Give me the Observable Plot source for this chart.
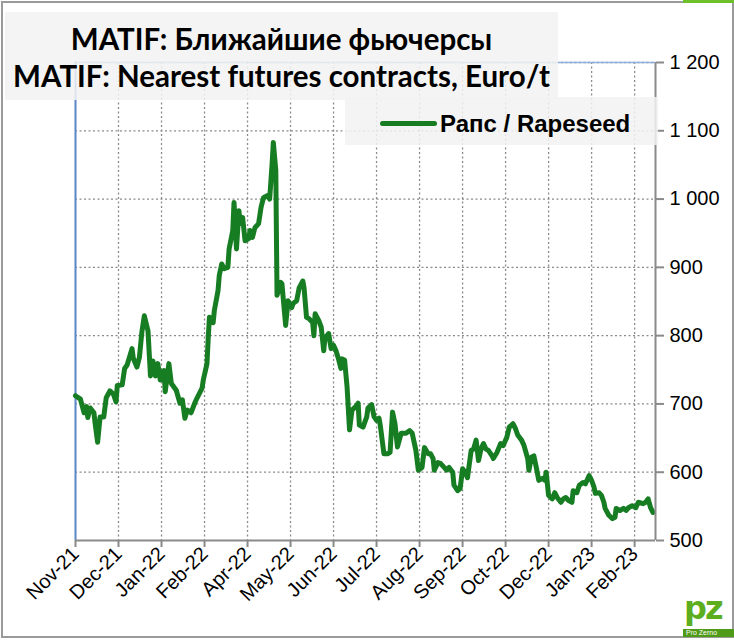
<!DOCTYPE html>
<html>
<head>
<meta charset="utf-8">
<script src="https://cdn.jsdelivr.net/npm/d3@7"></script>
<script src="https://cdn.jsdelivr.net/npm/@observablehq/plot@0.6"></script>
<style>
  html, body { margin: 0; padding: 0; background: #fff; }
  #wrap { position: relative; width: 734px; height: 641px; overflow: hidden; font-family: "Liberation Sans", Arial, sans-serif; }
  #frame { position: absolute; left: 1px; top: 1px; width: 729px; height: 633px; border: 2px solid #9a9a9a; }
  #chart { position: absolute; left: 0; top: 0; }
  #title { position: absolute; left: 5px; top: 12px; width: 553px; height: 88px; background: rgba(242,242,242,0.85);
           font-family: Lato, "Open Sans", sans-serif; font-weight: 700; font-size: 29.5px; line-height: 36px; color: #000; text-align: center; }
  #title div { position: absolute; left: 0; width: 100%; white-space: nowrap; }
  #legend { position: absolute; left: 345px; top: 97px; width: 313px; height: 48px; background: rgba(242,242,242,0.85); }
  #legend .sw { position: absolute; left: 35px; top: 24px; width: 57px; height: 5px; border-radius: 3px; background: #177d22; }
  #legend .lb { position: absolute; left: 95px; top: 13px; font-weight: 700; font-size: 24px; line-height: 28px; color: #000; white-space: nowrap; }
  #logo { position: absolute; left: 683px; top: 600px; width: 51px; height: 38px; }
  #logo .pz { position: absolute; left: 1px; top: -8px; font-family: "DejaVu Sans", sans-serif; font-weight: 900; font-size: 32px; line-height: 32px; color: #5cae1e; letter-spacing: -2px; }
  #logo .band { position: absolute; left: 0; top: 29px; width: 48px; height: 8px; background: #4f9a17; color: #fff; font-size: 7px; line-height: 8px; padding-left: 3px; }
  #topbar { position: absolute; left: 683px; top: 0; width: 51px; height: 3px; background: #6cc02a; }
</style>
</head>
<body>
<div id="wrap">
  <div id="frame"></div>
  <div id="chart"></div>
  <div id="title">
    <div style="top:9px">MATIF: Ближайшие фьючерсы</div>
    <div style="top:46px">MATIF: Nearest futures contracts, Euro/t</div>
  </div>
  <div id="legend"><div class="sw"></div><div class="lb">Рапс / Rapeseed</div></div>
  <div id="logo"><div class="pz">pz</div><div class="band">Pro Zerno</div></div>
  <div id="topbar"></div>
</div>
<script>
// Series: MATIF rapeseed nearest futures, Euro/t
const dates = [
  "2021-11-15","2021-11-19","2021-11-22","2021-11-24","2021-11-25","2021-11-27","2021-11-30","2021-12-01","2021-12-03","2021-12-05",
  "2021-12-08","2021-12-10","2021-12-13","2021-12-16","2021-12-18","2021-12-19","2021-12-23","2021-12-25","2021-12-27","2021-12-31",
  "2022-01-01","2022-01-04","2022-01-06","2022-01-08","2022-01-10","2022-01-13","2022-01-15","2022-01-17","2022-01-19","2022-01-21",
  "2022-01-23","2022-01-26","2022-01-27","2022-01-30","2022-02-01","2022-02-05","2022-02-08","2022-02-10","2022-02-12","2022-02-14",
  "2022-02-17","2022-02-20","2022-02-22","2022-02-26","2022-02-27","2022-03-02","2022-03-03","2022-03-04","2022-03-07","2022-03-08",
  "2022-03-11","2022-03-12","2022-03-14","2022-03-16","2022-03-19","2022-03-20","2022-03-23","2022-03-24","2022-03-26","2022-03-28",
  "2022-03-29","2022-03-31","2022-04-02","2022-04-05","2022-04-06","2022-04-08","2022-04-10","2022-04-13","2022-04-15","2022-04-17",
  "2022-04-20","2022-04-22","2022-04-24","2022-04-25","2022-04-27","2022-04-28","2022-05-01","2022-05-02","2022-05-05","2022-05-07",
  "2022-05-10","2022-05-11","2022-05-14","2022-05-16","2022-05-19","2022-05-20","2022-05-22","2022-05-24","2022-05-27","2022-05-28",
  "2022-05-29","2022-06-01","2022-06-03","2022-06-05","2022-06-06","2022-06-09","2022-06-11","2022-06-13","2022-06-15","2022-06-17",
  "2022-06-19","2022-06-20","2022-06-22","2022-06-24","2022-06-26","2022-06-28","2022-07-01","2022-07-03","2022-07-04","2022-07-07",
  "2022-07-10","2022-07-11","2022-07-14","2022-07-16","2022-07-18","2022-07-20","2022-07-21","2022-07-24","2022-07-27","2022-07-29",
  "2022-07-31","2022-08-02","2022-08-04","2022-08-07","2022-08-11","2022-08-14","2022-08-16","2022-08-19","2022-08-21","2022-08-24",
  "2022-08-26","2022-08-29","2022-08-31","2022-09-02","2022-09-03","2022-09-06","2022-09-08","2022-09-11","2022-09-13","2022-09-15",
  "2022-09-18","2022-09-19","2022-09-22","2022-09-24","2022-09-26","2022-09-28","2022-09-30","2022-10-03","2022-10-05","2022-10-07",
  "2022-10-09","2022-10-11","2022-10-13","2022-10-15","2022-10-17","2022-10-20","2022-10-21","2022-10-24","2022-10-27","2022-10-29",
  "2022-11-01","2022-11-03","2022-11-06","2022-11-08","2022-11-10","2022-11-13","2022-11-15","2022-11-18","2022-11-19","2022-11-21",
  "2022-11-23","2022-11-25","2022-11-27","2022-11-30","2022-12-02","2022-12-03","2022-12-05","2022-12-08","2022-12-10","2022-12-12",
  "2022-12-15","2022-12-17","2022-12-19","2022-12-21","2022-12-24","2022-12-25","2022-12-28","2022-12-30","2023-01-02","2023-01-04",
  "2023-01-07","2023-01-09","2023-01-11","2023-01-12","2023-01-15","2023-01-17","2023-01-19","2023-01-20","2023-01-23","2023-01-26",
  "2023-01-28","2023-01-29","2023-02-01","2023-02-04","2023-02-06","2023-02-08","2023-02-11","2023-02-14","2023-02-16","2023-02-20",
  "2023-02-22","2023-02-24","2023-02-26","2023-02-28"
];
const rapeseed = [
  712,707,687,696,680,694,687,671,644,681,
  681,709,719,714,703,727,728,752,757,781,
  767,754,768,805,829,807,741,763,741,759,
  735,749,718,759,730,720,701,706,679,691,
  687,701,709,723,735,759,796,827,819,837,
  866,888,905,898,900,927,954,995,927,983,
  964,973,939,942,954,944,958,964,988,1002,
  1005,1000,1052,1083,1042,859,878,876,815,851,
  841,847,851,870,880,870,827,825,819,800,
  832,822,812,778,796,803,781,786,778,766,
  752,766,764,725,662,691,696,701,669,666,
  681,694,699,681,676,679,669,627,627,629,
  688,671,637,657,657,661,657,632,603,607,
  636,627,627,620,603,614,613,607,603,607,
  600,581,573,576,605,600,592,632,634,647,
  617,634,642,634,632,624,620,629,642,639,
  651,666,671,664,654,647,639,620,603,622,
  624,607,588,591,588,600,566,561,570,563,
  556,561,563,559,556,573,570,581,585,583,
  595,588,578,569,570,566,556,547,537,532,
  534,547,544,547,544,548,551,548,556,554,
  556,561,548,541
];
// Axis ticks (date axis, one label every 35 days)
const xTickDates = ["2021-11-15","2021-12-20","2022-01-24","2022-02-28","2022-04-04","2022-05-09","2022-06-13",
                    "2022-07-18","2022-08-22","2022-09-26","2022-10-31","2022-12-05","2023-01-09","2023-02-13"];
const yTicks = [500, 600, 700, 800, 900, 1000, 1100, 1200];
const xStart = "2021-11-15", xEnd = "2023-03-02";

const parse = d3.utcParse("%Y-%m-%d");
const data = dates.map((d, i) => ({date: parse(d), value: rapeseed[i]}));
const xt = xTickDates.map(parse);
const x0 = parse(xStart), x1 = parse(xEnd);
const fmtY = d => d3.format(",")(d).replace(/,/g, " ");
const fmtX = d3.utcFormat("%b-%y");

const chart = Plot.plot({
  width: 734, height: 641,
  marginLeft: 75, marginRight: 79, marginTop: 62, marginBottom: 101,
  style: {fontFamily: "'Liberation Sans', Arial, sans-serif", fontSize: "20px", color: "#000", background: "transparent", overflow: "visible"},
  x: {type: "utc", domain: [x0, x1]},
  y: {domain: [500, 1200]},
  marks: [
    Plot.gridY(yTicks.slice(1), {stroke: "#8a8a8a", strokeOpacity: 1, strokeWidth: 1.3, strokeDasharray: "2,2.5"}),
    Plot.gridX(xt.slice(1), {stroke: "#8a8a8a", strokeOpacity: 1, strokeWidth: 1.3, strokeDasharray: "2,2.5"}),
    Plot.ruleY([1200], {stroke: "#8fb1de", strokeWidth: 1.5}),
    Plot.ruleX([x0], {stroke: "#5b86c8", strokeWidth: 2}),
    Plot.line(data, {x: "date", y: "value", stroke: "#177d22", strokeWidth: 5, strokeLinejoin: "round", strokeLinecap: "round"}),
    Plot.ruleX([x1], {stroke: "#8a8a8a", strokeWidth: 2, y1: 500, y2: 1200}),
    Plot.ruleY([500], {stroke: "#8a8a8a", strokeWidth: 2}),
    Plot.axisY(yTicks, {anchor: "right", tickSize: 8, tickPadding: 6, tickFormat: fmtY, stroke: "#8a8a8a", strokeWidth: 2, fontSize: 20, label: null}),
    Plot.axisX(xt, {anchor: "bottom", tickSize: 7, tickPadding: 3, tickRotate: -45, tickFormat: fmtX, stroke: "#8a8a8a", strokeWidth: 2, fontSize: 20, label: null})
  ]
});
document.getElementById("chart").appendChild(chart);
</script>
</body>
</html>
